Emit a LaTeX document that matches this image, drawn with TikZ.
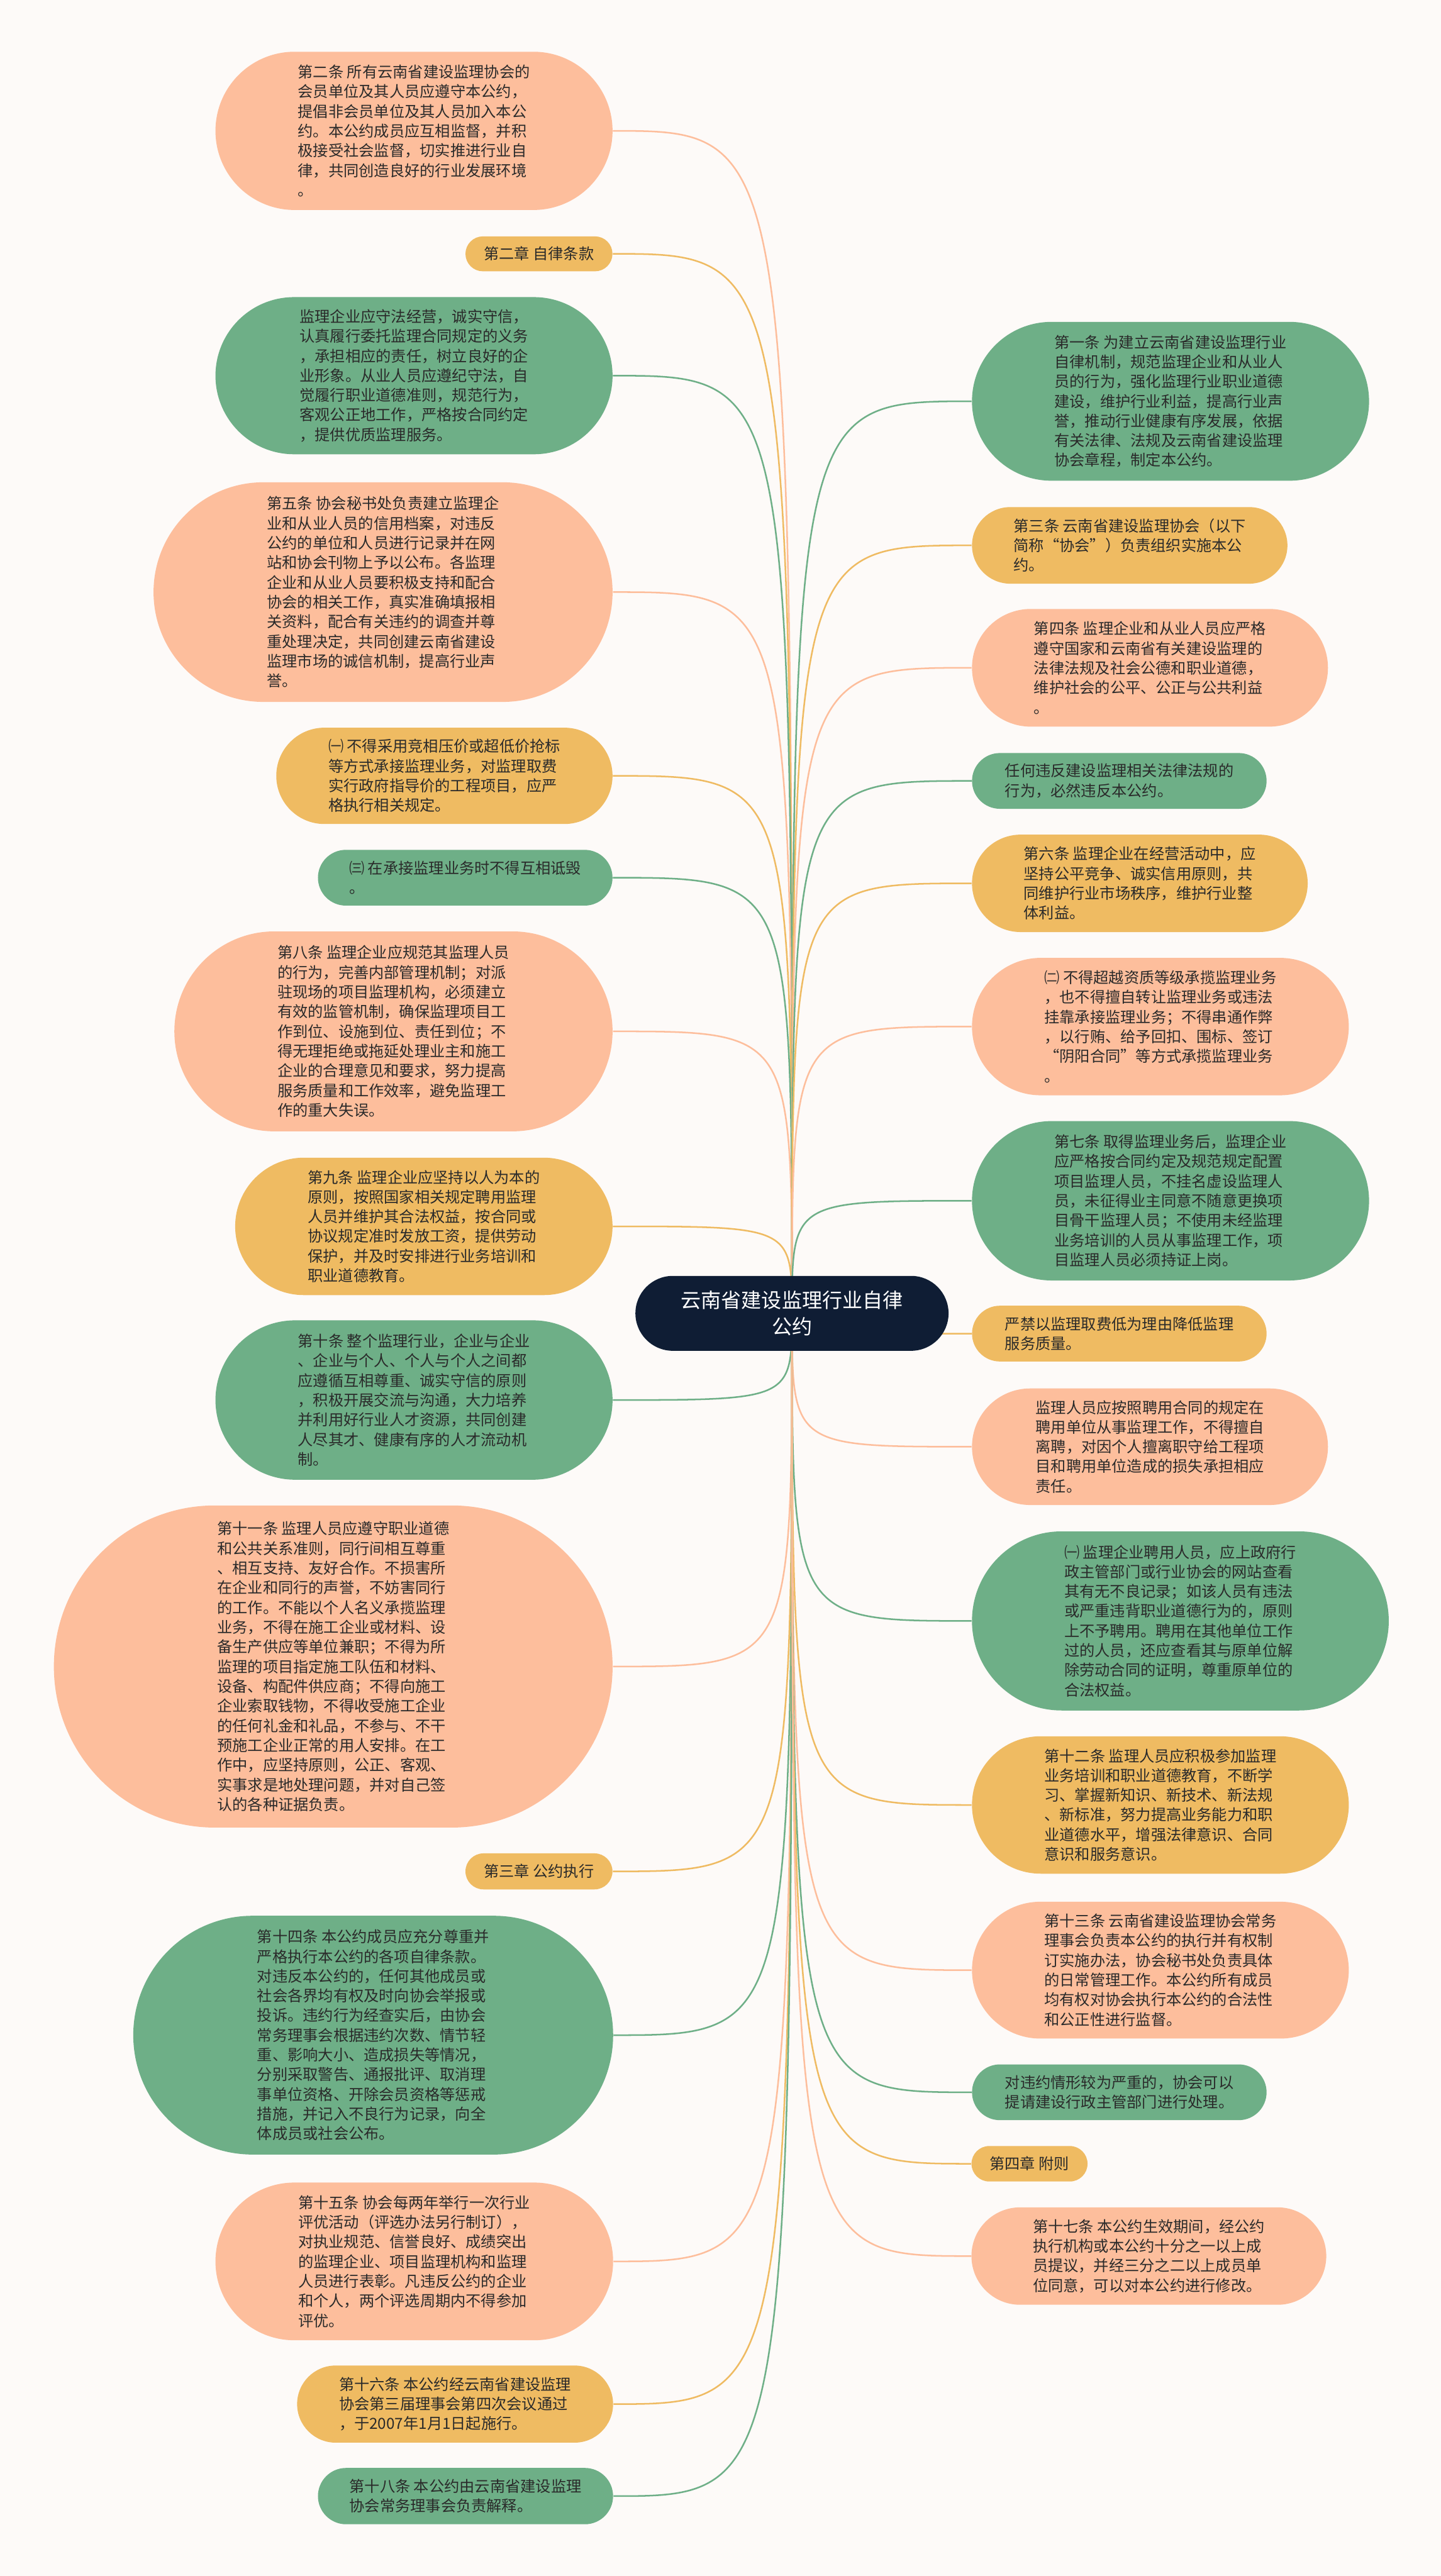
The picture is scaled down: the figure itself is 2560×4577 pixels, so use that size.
\documentclass[tikz,border=0pt]{standalone}
\usepackage{fontspec}
\setmainfont{Noto Sans CJK SC}
\usepackage{tikz}
\usepackage{xcolor}
\definecolor{salm}{HTML}{FDBE9C}
\definecolor{gold}{HTML}{EFBB62}
\definecolor{sage}{HTML}{6EAF87}
\definecolor{navy}{HTML}{0F1D34}
\definecolor{paper}{HTML}{FDFAF8}
\definecolor{ink}{HTML}{2A2A2A}
\pgfdeclarelayer{bg}
\pgfsetlayers{bg,main}

\begin{document}
\begin{tikzpicture}[
    x=0.01cm, y=-0.01cm,
    box/.style={
        rectangle, inner sep=0pt, align=left, text=ink,
        font=\fontsize{7.7}{9.95}\selectfont
    },
    pill/.style 2 args={
        minimum width=#1, minimum height=#2, rounded corners=0.5*#2
    },
    salmbox/.style={box, fill=salm},
    goldbox/.style={box, fill=gold},
    sagebox/.style={box, fill=sage},
    root/.style={
        rectangle, inner sep=0pt, align=center, text=white,
        fill=navy, font=\fontsize{10.2}{13.6}\selectfont
    },
    link/.style={line width=0.8pt, draw=#1},
]
\useasboundingbox (0,0) rectangle (2560,4577);

% ── Root ──────
\node[root, pill={5.56cm}{1.33cm}] (root) at (1407,2333.5) {云南省建设监理行业自律\\公约};

% ── Left branches ──────
\node[salmbox, pill={7.05cm}{2.81cm}] (art2) at (735.5,232.5) {第二条 所有云南省建设监理协会的\\会员单位及其人员应遵守本公约，\\提倡非会员单位及其人员加入本公\\约。本公约成员应互相监督，并积\\极接受社会监督，切实推进行业自\\律，共同创造良好的行业发展环境\\。};
\node[goldbox, pill={2.61cm}{0.62cm}] (ch2) at (957.5,451) {第二章 自律条款};
\node[sagebox, pill={7.05cm}{2.79cm}] (lawful) at (735.5,667.5) {监理企业应守法经营，诚实守信，\\认真履行委托监理合同规定的义务\\，承担相应的责任，树立良好的企\\业形象。从业人员应遵纪守法，自\\觉履行职业道德准则，规范行为，\\客观公正地工作，严格按合同约定\\，提供优质监理服务。};
\node[salmbox, pill={8.15cm}{3.90cm}] (art5) at (680.5,1052) {第五条 协会秘书处负责建立监理企\\业和从业人员的信用档案，对违反\\公约的单位和人员进行记录并在网\\站和协会刊物上予以公布。各监理\\企业和从业人员要积极支持和配合\\协会的相关工作，真实准确填报相\\关资料，配合有关违约的调查并尊\\重处理决定，共同创建云南省建设\\监理市场的诚信机制，提高行业声\\誉。};
\node[goldbox, pill={5.97cm}{1.71cm}] (item1) at (789.5,1378.5) {㈠ 不得采用竞相压价或超低价抢标\\等方式承接监理业务，对监理取费\\实行政府指导价的工程项目，应严\\格执行相关规定。};
\node[sagebox, pill={5.23cm}{0.99cm}] (item3) at (826.5,1559.5) {㈢ 在承接监理业务时不得互相诋毁\\。};
\node[salmbox, pill={7.78cm}{3.55cm}] (art8) at (699,1832.5) {第八条 监理企业应规范其监理人员\\的行为，完善内部管理机制；对派\\驻现场的项目监理机构，必须建立\\有效的监管机制，确保监理项目工\\作到位、设施到位、责任到位；不\\得无理拒绝或拖延处理业主和施工\\企业的合理意见和要求，努力提高\\服务质量和工作效率，避免监理工\\作的重大失误。};
\node[goldbox, pill={6.70cm}{2.44cm}] (art9) at (753,2179) {第九条 监理企业应坚持以人为本的\\原则，按照国家相关规定聘用监理\\人员并维护其合法权益，按合同或\\协议规定准时发放工资，提供劳动\\保护，并及时安排进行业务培训和\\职业道德教育。};
\node[sagebox, pill={7.05cm}{2.83cm}] (art10) at (735.5,2487.5) {第十条 整个监理行业，企业与企业\\、企业与个人、个人与个人之间都\\应遵循互相尊重、诚实守信的原则\\，积极开展交流与沟通，大力培养\\并利用好行业人才资源，共同创建\\人尽其才、健康有序的人才流动机\\制。};
\node[salmbox, pill={9.92cm}{5.72cm}] (art11) at (592,2961) {第十一条 监理人员应遵守职业道德\\和公共关系准则，同行间相互尊重\\、相互支持、友好合作。不损害所\\在企业和同行的声誉，不妨害同行\\的工作。不能以个人名义承揽监理\\业务，不得在施工企业或材料、设\\备生产供应等单位兼职；不得为所\\监理的项目指定施工队伍和材料、\\设备、构配件供应商；不得向施工\\企业索取钱物，不得收受施工企业\\的任何礼金和礼品，不参与、不干\\预施工企业正常的用人安排。在工\\作中，应坚持原则，公正、客观、\\实事求是地处理问题，并对自己签\\认的各种证据负责。};
\node[goldbox, pill={2.61cm}{0.64cm}] (ch3) at (957.5,3325) {第三章 公约执行};
\node[sagebox, pill={8.52cm}{4.24cm}] (art14) at (663,3616) {第十四条 本公约成员应充分尊重并\\严格执行本公约的各项自律条款。\\对违反本公约的，任何其他成员或\\社会各界均有权及时向协会举报或\\投诉。违约行为经查实后，由协会\\常务理事会根据违约次数、情节轻\\重、影响大小、造成损失等情况，\\分别采取警告、通报批评、取消理\\事单位资格、开除会员资格等惩戒\\措施，并记入不良行为记录，向全\\体成员或社会公布。};
\node[salmbox, pill={7.06cm}{2.80cm}] (art15) at (736,4018) {第十五条 协会每两年举行一次行业\\评优活动（评选办法另行制订），\\对执业规范、信誉良好、成绩突出\\的监理企业、项目监理机构和监理\\人员进行表彰。凡违反公约的企业\\和个人，两个评选周期内不得参加\\评优。};
\node[goldbox, pill={5.61cm}{1.37cm}] (art16) at (808.5,4271.5) {第十六条 本公约经云南省建设监理\\协会第三届理事会第四次会议通过\\，于2007年1月1日起施行。};
\node[sagebox, pill={5.24cm}{1.00cm}] (art18) at (827,4435) {第十八条 本公约由云南省建设监理\\协会常务理事会负责解释。};

% ── Right branches ──────
\node[sagebox, pill={7.05cm}{2.82cm}] (art1) at (2079.5,713) {第一条 为建立云南省建设监理行业\\自律机制，规范监理企业和从业人\\员的行为，强化监理行业职业道德\\建设，维护行业利益，提高行业声\\誉，推动行业健康有序发展，依据\\有关法律、法规及云南省建设监理\\协会章程，制定本公约。};
\node[goldbox, pill={5.60cm}{1.36cm}] (art3) at (2007,969) {第三条 云南省建设监理协会（以下\\简称“协会”）负责组织实施本公\\约。};
\node[salmbox, pill={6.32cm}{2.09cm}] (art4) at (2043,1186.5) {第四条 监理企业和从业人员应严格\\遵守国家和云南省有关建设监理的\\法律法规及社会公德和职业道德，\\维护社会的公平、公正与公共利益\\。};
\node[sagebox, pill={5.23cm}{0.99cm}] (breach) at (1988.5,1387.5) {任何违反建设监理相关法律法规的\\行为，必然违反本公约。};
\node[goldbox, pill={5.96cm}{1.73cm}] (art6) at (2025,1569.5) {第六条 监理企业在经营活动中，应\\坚持公平竞争、诚实信用原则，共\\同维护行业市场秩序，维护行业整\\体利益。};
\node[salmbox, pill={6.69cm}{2.44cm}] (item2) at (2061.5,1824) {㈡ 不得超越资质等级承揽监理业务\\，也不得擅自转让监理业务或违法\\挂靠承接监理业务；不得串通作弊\\，以行贿、给予回扣、围标、签订\\“阴阳合同”等方式承揽监理业务\\。};
\node[sagebox, pill={7.05cm}{2.83cm}] (art7) at (2079.5,2133.5) {第七条 取得监理业务后，监理企业\\应严格按合同约定及规范规定配置\\项目监理人员，不挂名虚设监理人\\员，未征得业主同意不随意更换项\\目骨干监理人员；不使用未经监理\\业务培训的人员从事监理工作，项\\目监理人员必须持证上岗。};
\node[goldbox, pill={5.23cm}{0.99cm}] (fee) at (1988.5,2369.5) {严禁以监理取费低为理由降低监理\\服务质量。};
\node[salmbox, pill={6.32cm}{2.07cm}] (hire) at (2043,2570.5) {监理人员应按照聘用合同的规定在\\聘用单位从事监理工作，不得擅自\\离聘，对因个人擅离职守给工程项\\目和聘用单位造成的损失承担相应\\责任。};
\node[sagebox, pill={7.40cm}{3.18cm}] (staff1) at (2097,2880) {㈠ 监理企业聘用人员，应上政府行\\政主管部门或行业协会的网站查看\\其有无不良记录；如该人员有违法\\或严重违背职业道德行为的，原则\\上不予聘用。聘用在其他单位工作\\过的人员，还应查看其与原单位解\\除劳动合同的证明，尊重原单位的\\合法权益。};
\node[goldbox, pill={6.69cm}{2.44cm}] (art12) at (2061.5,3207) {第十二条 监理人员应积极参加监理\\业务培训和职业道德教育，不断学\\习、掌握新知识、新技术、新法规\\、新标准，努力提高业务能力和职\\业道德水平，增强法律意识、合同\\意识和服务意识。};
\node[salmbox, pill={6.69cm}{2.43cm}] (art13) at (2061.5,3500.5) {第十三条 云南省建设监理协会常务\\理事会负责本公约的执行并有权制\\订实施办法，协会秘书处负责具体\\的日常管理工作。本公约所有成员\\均有权对协会执行本公约的合法性\\和公正性进行监督。};
\node[sagebox, pill={5.23cm}{0.99cm}] (severe) at (1988.5,3717.5) {对违约情形较为严重的，协会可以\\提请建设行政主管部门进行处理。};
\node[goldbox, pill={2.06cm}{0.63cm}] (ch4) at (1829,3844.5) {第四章 附则};
\node[salmbox, pill={6.30cm}{1.73cm}] (art17) at (2041,4008.5) {第十七条 本公约生效期间，经公约\\执行机构或本公约十分之一以上成\\员提议，并经三分之二以上成员单\\位同意，可以对本公约进行修改。};

\begin{pgfonlayer}{bg}
\fill[paper] (0,0) rectangle (2560,4577);

% ── Links to the left ──────
\draw[link=salm] (root.center) .. controls (root.center |- art2.east) .. (art2.east);
\draw[link=gold] (root.center) .. controls (root.center |- ch2.east) .. (ch2.east);
\draw[link=sage] (root.center) .. controls (root.center |- lawful.east) .. (lawful.east);
\draw[link=salm] (root.center) .. controls (root.center |- art5.east) .. (art5.east);
\draw[link=gold] (root.center) .. controls (root.center |- item1.east) .. (item1.east);
\draw[link=sage] (root.center) .. controls (root.center |- item3.east) .. (item3.east);
\draw[link=salm] (root.center) .. controls (root.center |- art8.east) .. (art8.east);
\draw[link=gold] (root.center) .. controls (root.center |- art9.east) .. (art9.east);
\draw[link=sage] (root.center) .. controls (root.center |- art10.east) .. (art10.east);
\draw[link=salm] (root.center) .. controls (root.center |- art11.east) .. (art11.east);
\draw[link=gold] (root.center) .. controls (root.center |- ch3.east) .. (ch3.east);
\draw[link=sage] (root.center) .. controls (root.center |- art14.east) .. (art14.east);
\draw[link=salm] (root.center) .. controls (root.center |- art15.east) .. (art15.east);
\draw[link=gold] (root.center) .. controls (root.center |- art16.east) .. (art16.east);
\draw[link=sage] (root.center) .. controls (root.center |- art18.east) .. (art18.east);

% ── Links to the right ──────
\draw[link=sage] (root.center) .. controls (root.center |- art1.west) .. (art1.west);
\draw[link=gold] (root.center) .. controls (root.center |- art3.west) .. (art3.west);
\draw[link=salm] (root.center) .. controls (root.center |- art4.west) .. (art4.west);
\draw[link=sage] (root.center) .. controls (root.center |- breach.west) .. (breach.west);
\draw[link=gold] (root.center) .. controls (root.center |- art6.west) .. (art6.west);
\draw[link=salm] (root.center) .. controls (root.center |- item2.west) .. (item2.west);
\draw[link=sage] (root.center) .. controls (root.center |- art7.west) .. (art7.west);
\draw[link=gold] (root.center) .. controls (root.center |- fee.west) .. (fee.west);
\draw[link=salm] (root.center) .. controls (root.center |- hire.west) .. (hire.west);
\draw[link=sage] (root.center) .. controls (root.center |- staff1.west) .. (staff1.west);
\draw[link=gold] (root.center) .. controls (root.center |- art12.west) .. (art12.west);
\draw[link=salm] (root.center) .. controls (root.center |- art13.west) .. (art13.west);
\draw[link=sage] (root.center) .. controls (root.center |- severe.west) .. (severe.west);
\draw[link=gold] (root.center) .. controls (root.center |- ch4.west) .. (ch4.west);
\draw[link=salm] (root.center) .. controls (root.center |- art17.west) .. (art17.west);
\end{pgfonlayer}

\end{tikzpicture}
\end{document}
